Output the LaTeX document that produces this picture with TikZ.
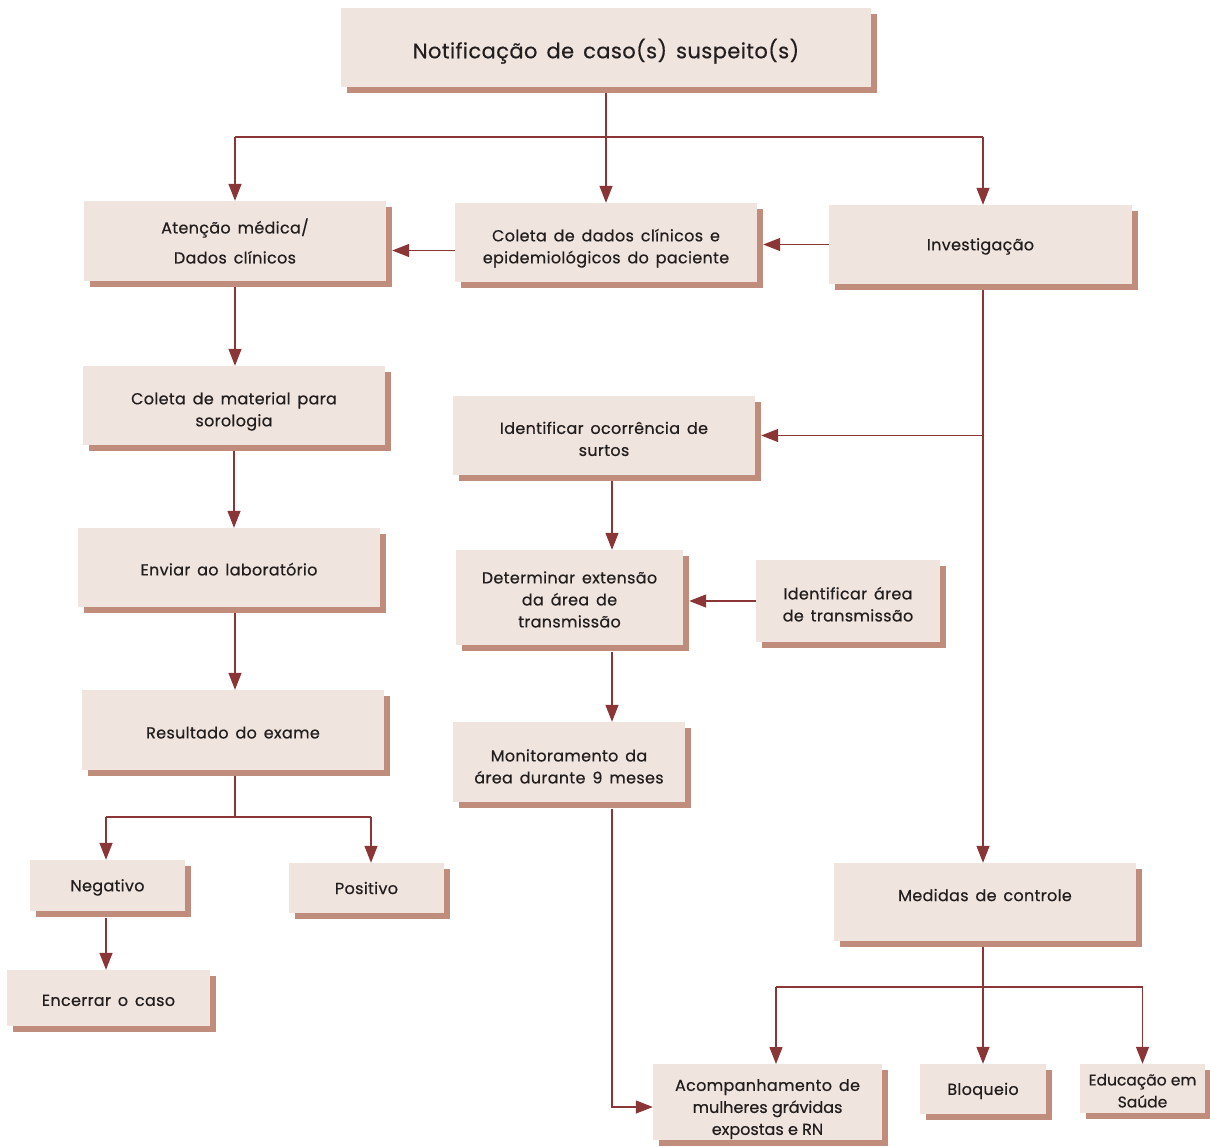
\documentclass[tikz,border=0pt]{standalone}
\usepackage{fontspec}
\setmainfont{Poppins}[LetterSpace=2.0,WordSpace=1.5,FakeBold=0.5]
\newfontfamily\tightfont{Poppins}[FakeBold=0.5]
\usetikzlibrary{arrows.meta,calc,shadows}
\definecolor{boxfill}{HTML}{F0E4DE}
\definecolor{shadowc}{HTML}{C08C7C}
\definecolor{arrc}{HTML}{8B3636}
\definecolor{txtc}{HTML}{221E1E}
\begin{document}
\begin{tikzpicture}[x=1pt,y=-1pt,
  box/.style={rectangle,fill=boxfill,inner sep=2pt,align=center,text=txtc,
    font=\fontsize{16}{22}\selectfont,
    general shadow={fill=shadowc,shadow xshift=6pt,shadow yshift=-6pt}},
  dn/.style={execute at begin node={\rule{0pt}{#1}}},
  up/.style={execute at end node={\rule[-#1]{0pt}{#1}}},
  ln/.style={draw=arrc,line width=1.3pt},
  arr/.style={ln,-{Triangle[width=13pt,length=17pt]}}]
\useasboundingbox[fill=white] (0,0) rectangle (1210,1146);
% boxes
\node[box,dn=27pt,minimum width=530pt,minimum height=79pt,font=\fontsize{21}{22}\selectfont] (title) at (606,47.5) {Notificação de caso(s) suspeito(s)};
\node[box,minimum width=302pt,minimum height=80pt,font=\fontsize{16}{30}\selectfont] (aten) at (235,241) {Atenção médica/\\Dados clínicos};
\node[box,dn=46pt,minimum width=302pt,minimum height=79pt] (coleta) at (606,242.5) {Coleta de dados clínicos e\\epidemiológicos do paciente};
\node[box,dn=16pt,minimum width=303pt,minimum height=79pt] (invest) at (980.5,244.5) {Investigação};
\node[box,dn=46pt,minimum width=302pt,minimum height=79pt] (colmat) at (234,405.5) {Coleta de material para\\sorologia};
\node[box,dn=41pt,minimum width=302pt,minimum height=79pt] (ident) at (604,435.5) {Identificar ocorrência de\\surtos};
\node[box,dn=16pt,minimum width=302pt,minimum height=79pt] (enviar) at (229,567.5) {Enviar ao laboratório};
\node[box,dn=60pt,minimum width=227pt,minimum height=95pt] (determ) at (569.5,597.5) {Determinar extensão\\da área de\\transmissão};
\node[box,dn=41pt,minimum width=184pt,minimum height=82pt] (identa) at (848,601) {Identificar área\\de transmissão};
\node[box,dn=43pt,minimum width=232pt,minimum height=80pt] (monit) at (569,762) {Monitoramento da\\área durante 9 meses};
\node[box,dn=17pt,minimum width=302pt,minimum height=80pt] (result) at (233,730) {Resultado do exame};
\node[box,dn=16pt,minimum width=155pt,minimum height=51pt] (neg) at (107.5,885.5) {Negativo};
\node[box,minimum width=155pt,minimum height=50pt] (pos) at (366.5,888) {Positivo};
\node[box,dn=16pt,minimum width=203pt,minimum height=56pt] (encer) at (108.5,998) {Encerrar o caso};
\node[box,up=14pt,minimum width=302pt,minimum height=78pt] (medidas) at (985,902) {Medidas de controle};
\node[box,dn=70pt,inner ysep=0pt,minimum width=229pt,minimum height=76pt] (acomp) at (767.5,1102) {Acompanhamento de\\{\tightfont mulheres grávidas}\\{\tightfont expostas e RN}};
\node[box,dn=16pt,minimum width=126pt,minimum height=50pt] (bloq) at (983,1089) {Bloqueio};
\node[box,dn=38pt,minimum width=125pt,minimum height=49pt,font=\tightfont\fontsize{15.5}{22}\selectfont] (educ) at (1142.5,1088.5) {Educação em\\Saúde};
% junctions and guide coordinates
\coordinate (j1) at (605,137);
\coordinate (j2) at (235,817);
\coordinate (j3) at (983,987);
\coordinate (vx) at (612,0);
\coordinate (vr) at (983,0);
\coordinate (vn) at (106,0);
\coordinate (vp) at (371,0);
% connectors
\draw[ln] ($(title.south)+(0,6)$) -- (title.south |- j1);
\draw[ln] (aten.north |- j1) -- (vr |- j1);
\draw[arr] (aten.north |- j1) -- (aten.north);
\draw[arr] (title.south |- j1) -- (title.south |- coleta.north);
\draw[arr] (vr |- j1) -- (vr |- invest.north);
\draw[arr] (invest.west) -- ($(coleta.east |- invest.west)+(6,0)$);
\draw[arr] ($(coleta.west)+(0,8)$) -- ($(aten.east |- coleta.west)+(6,8)$);
\draw[arr] ($(aten.south)+(0,6)$) -- (aten.south |- colmat.north);
\draw[arr] ($(colmat.south)+(0,6)$) -- (colmat.south |- enviar.north);
\draw[arr] ($(aten.south |- enviar.south)+(0,6)$) -- (aten.south |- result.north);
\draw[ln] ($(aten.south |- result.south)+(0,6)$) -- (j2);
\draw[ln] (vn |- j2) -- (vp |- j2);
\draw[arr] (vn |- j2) -- (vn |- neg.north);
\draw[arr] (vp |- j2) -- (vp |- pos.north);
\draw[arr] ($(vn |- neg.south)+(0,7)$) -- (vn |- encer.north);
\draw[arr] ($(vr |- invest.south)+(0,6)$) -- (vr |- medidas.north);
\draw[arr] (vr |- ident.east) -- ($(ident.east)+(6,0)$);
\draw[arr] ($(vx |- ident.south)+(0,6)$) -- (vx |- determ.north);
\draw[arr] (identa.west) -- ($(determ.east |- identa.west)+(6,0)$);
\draw[arr] ($(vx |- determ.south)+(0,7)$) -- (vx |- monit.north);
\draw[arr] ($(vx |- monit.south)+(0,7)$) |- ($(acomp.west)+(0,5)$);
\draw[arr] ($(vr |- medidas.south)+(0,6)$) -- (vr |- bloq.north);
\draw[ln] (776,987) -- (educ.north |- j3);
\draw[arr] (776,987) -- (776,1064);
\draw[arr] (educ.north |- j3) -- (educ.north);
\end{tikzpicture}
\end{document}
